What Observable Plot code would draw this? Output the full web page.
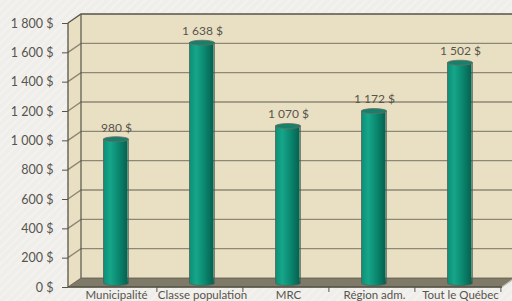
<!DOCTYPE html>
<html><head><meta charset="utf-8">
<script src="https://cdn.jsdelivr.net/npm/d3@7"></script>
<script src="https://cdn.jsdelivr.net/npm/@observablehq/plot@0.6"></script>
<style>html,body{margin:0;padding:0;overflow:hidden;background:#efeeea;}</style>
</head><body><div id="chart"></div>
<script>
const categories = ["Municipalité", "Classe population", "MRC", "Région adm.", "Tout le Québec"];
const values = [980, 1638, 1070, 1172, 1502];
const yTicks = [0, 200, 400, 600, 800, 1000, 1200, 1400, 1600, 1800];

const data = categories.map((c, i) => ({cat: c, value: values[i]}));
const loc = d3.formatLocale({decimal: ",", thousands: " ", grouping: [3], currency: ["", " $"]});
const fmt = v => loc.format(",d")(v) + " $";

const W = 512, H = 301;
const ML = 68, MR = 10, MT = 23, MB = 14;
const DX = 13, DY = -9;          // depth of the box
const BDX = 2.5, BDY = -4.5;     // bars sit mid-depth
const BW = (W - ML - MR) / categories.length;
const BAR = 25;
const INSET = (BW - BAR) / 2;
const WALL = "#e9e0c3", FLOOR = "#7f7a68", GRID = "#8d8775", EDGE = "#57544a";
const FONT = "Lato, 'Open Sans', sans-serif";
const TXT = "#57544c";

function ellipse(rx, ry) {
  const k = 0.5523;
  return {draw(c) {
    c.moveTo(-rx, 0);
    c.bezierCurveTo(-rx, -k * ry, -k * rx, -ry, 0, -ry);
    c.bezierCurveTo(k * rx, -ry, rx, -k * ry, rx, 0);
    c.bezierCurveTo(rx, k * ry, k * rx, ry, 0, ry);
    c.bezierCurveTo(-k * rx, ry, -rx, k * ry, -rx, 0);
    c.closePath();
  }};
}

function background(index, scales, values, dim) {
  const g = d3.create("svg:g");
  const defs = g.append("defs");
  const grad = defs.append("linearGradient").attr("id", "cyl").attr("x1", 0).attr("x2", 1).attr("y1", 0).attr("y2", 0);
  [[0, "#0c8f77"], [0.28, "#16a68a"], [0.6, "#0b8a71"], [1, "#05604e"]].forEach(([o, c]) =>
    grad.append("stop").attr("offset", o).attr("stop-color", c));
  const pat = defs.append("pattern").attr("id", "stripes").attr("patternUnits", "userSpaceOnUse")
    .attr("width", 6).attr("height", 6).attr("patternTransform", "rotate(45)");
  pat.append("rect").attr("width", 6).attr("height", 6).attr("fill", "#efeeeb");
  pat.append("rect").attr("width", 2).attr("height", 6).attr("fill", "#f3f2ef");
  g.append("rect").attr("width", dim.width).attr("height", dim.height).attr("fill", "url(#stripes)");
  return g.node();
}

function box(index, scales, values, dim) {
  const y = scales.y;
  const x0 = dim.marginLeft, x1 = dim.width - dim.marginRight;
  const yb = y(0), yt = y(1800);
  const g = d3.create("svg:g");
  const pts = a => a.map(p => p.join(",")).join(" ");
  g.append("polygon").attr("points", pts([[x0 + DX, yt + DY], [x1 + DX + 20, yt + DY], [x1 + DX + 20, yb + DY], [x0 + DX, yb + DY]]))
    .attr("fill", WALL);
  g.append("polygon").attr("points", pts([[x0, yb], [x0 + DX, yb + DY], [x0 + DX, yt + DY], [x0, yt]]))
    .attr("fill", WALL);
  yTicks.slice(1, -1).forEach(t => {
    const yy = y(t);
    g.append("polyline").attr("points", pts([[x0, yy], [x0 + DX, yy + DY], [x1 + DX + 20, yy + DY]]))
      .attr("fill", "none").attr("stroke", GRID).attr("stroke-width", 1.4);
  });
  g.append("polyline").attr("points", pts([[x0, yt], [x0 + DX, yt + DY], [x1 + DX + 20, yt + DY]]))
    .attr("fill", "none").attr("stroke", EDGE).attr("stroke-width", 1.3);
  g.append("line").attr("x1", x0 + DX).attr("x2", x0 + DX).attr("y1", yt + DY).attr("y2", yb + DY)
    .attr("stroke", EDGE).attr("stroke-width", 1.2);
  g.append("polygon").attr("points", pts([[x0, yb], [x1, yb], [x1 + DX, yb + DY], [x0 + DX, yb + DY]]))
    .attr("fill", FLOOR).attr("stroke", "#5e5a4d").attr("stroke-width", 0.8);
  g.append("line").attr("x1", x0).attr("x2", x0).attr("y1", yt).attr("y2", yb)
    .attr("stroke", EDGE).attr("stroke-width", 1.3);
  g.append("line").attr("x1", x0).attr("x2", x1).attr("y1", yb).attr("y2", yb)
    .attr("stroke", EDGE).attr("stroke-width", 1.3);
  g.append("line").attr("x1", x1).attr("x2", x1 + DX).attr("y1", yb).attr("y2", yb + DY)
    .attr("stroke", "#cfc9b8").attr("stroke-width", 1.2);
  return g.node();
}

const chart = Plot.plot({
  width: W, height: H,
  marginLeft: ML, marginRight: MR, marginTop: MT, marginBottom: MB,
  style: {background: "#efeeea", fontFamily: FONT, color: TXT, overflow: "hidden"},
  x: {domain: categories, padding: 0, label: null},
  y: {domain: [0, 1800], label: null},
  marks: [
    background,
    box,
    Plot.axisY({ticks: yTicks, tickFormat: fmt, tickSize: 6, tickPadding: 9, fontSize: 12.5, letterSpacing: 0.5, stroke: EDGE, fill: TXT, label: null}),
    Plot.axisX({tickSize: 5, tickFormat: () => "", dx: BW / 2, stroke: EDGE, label: null}),
    Plot.axisX({tickSize: 0, tickPadding: 3, dx: 3, fontSize: 11.5, fill: TXT, label: null}),
    Plot.dot(data, {x: "cat", y: d => 0, symbol: ellipse(BAR / 2, 2.5), fill: "url(#cyl)", stroke: "#4f5a52", strokeWidth: 0.6, dx: BDX, dy: BDY}),
    Plot.barY(data, {x: "cat", y: "value", fill: "url(#cyl)", insetLeft: INSET, insetRight: INSET, dx: BDX, dy: BDY}),
    Plot.ruleX(data, {x: "cat", y1: 0, y2: "value", dx: BDX - BAR / 2, dy: BDY, stroke: "#4f5a52", strokeWidth: 0.7}),
    Plot.ruleX(data, {x: "cat", y1: 0, y2: "value", dx: BDX + BAR / 2, dy: BDY, stroke: "#4f5a52", strokeWidth: 0.7}),
    Plot.dot(data, {x: "cat", y: "value", symbol: ellipse(BAR / 2, 2.5), fill: "#17806a", stroke: "#6c6b63", strokeWidth: 0.8, dx: BDX, dy: BDY}),
    Plot.text(data, {x: "cat", y: "value", text: d => fmt(d.value), dy: -16, dx: 3, fontSize: 12, letterSpacing: 0.3, fill: TXT})
  ]
});
document.getElementById("chart").appendChild(chart);
</script>
</body></html>
